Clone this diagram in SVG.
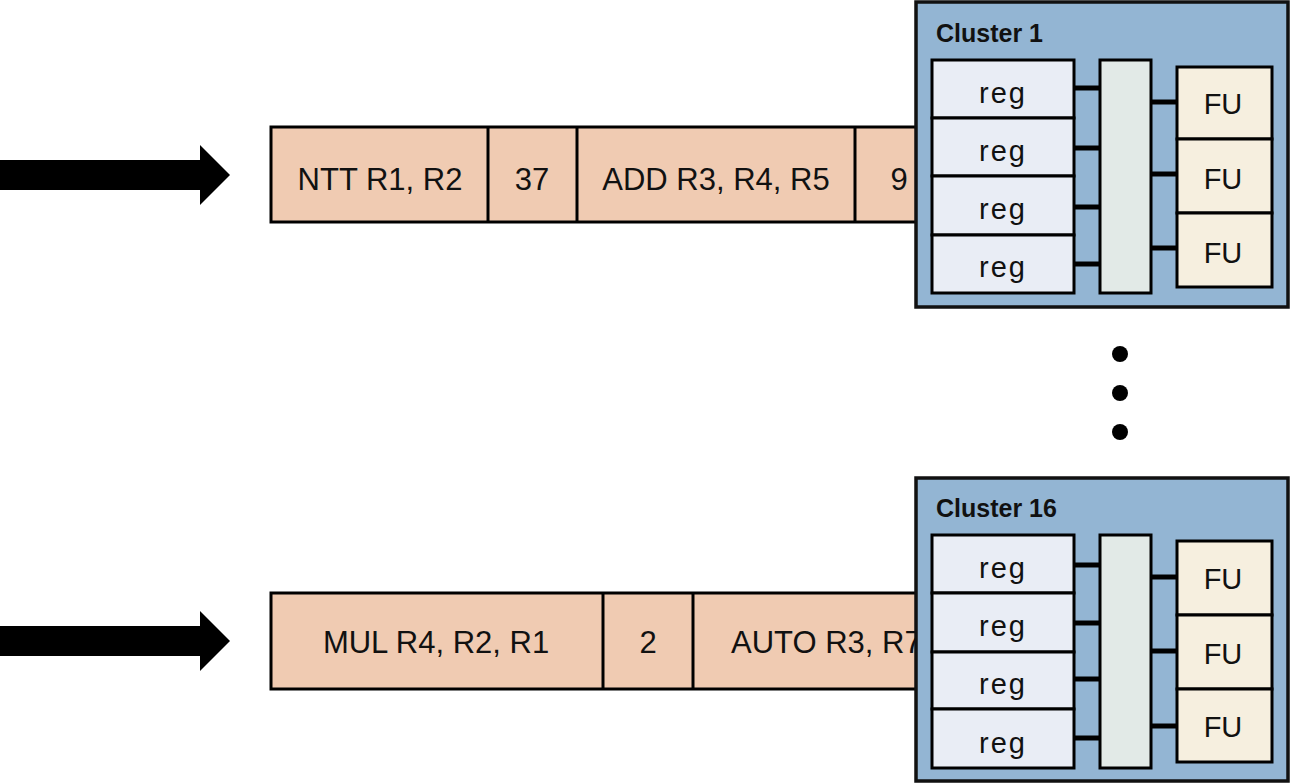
<svg xmlns="http://www.w3.org/2000/svg" width="1291" height="783" viewBox="0 0 1291 783">
  <style>
    .q { fill: #f0cbb2; stroke: #000; stroke-width: 3; }
    .div { stroke: #000; stroke-width: 3; }
    .qt { font-family: "Liberation Sans", Arial, sans-serif; font-size: 31px; fill: #111; text-anchor: middle; }
    .cl { fill: #93b5d3; stroke: #111; stroke-width: 3.5; }
    .ct { font-family: "Liberation Sans", Arial, sans-serif; font-size: 25px; font-weight: bold; fill: #111; }
    .reg { fill: #e9edf5; stroke: #000; stroke-width: 3; }
    .bus { fill: #e2eae7; stroke: #000; stroke-width: 3; }
    .fu { fill: #f6efdf; stroke: #000; stroke-width: 3; }
    .rt { font-family: "Liberation Sans", Arial, sans-serif; font-size: 29px; letter-spacing: 2px; fill: #111; text-anchor: middle; }
    .ft { font-family: "Liberation Sans", Arial, sans-serif; font-size: 29px; fill: #111; text-anchor: middle; }
    .wire { stroke: #000; stroke-width: 5; }
  </style>
  <defs>
    <path id="bigArrow" d="M0,-15 H200 V-30 L230,0 L200,30 V15 H0 Z" fill="#000"/>
  </defs>

  <!-- input arrows -->
  <g id="arrows">
    <use href="#bigArrow" x="0" y="175"/>
    <use href="#bigArrow" x="0" y="641"/>
  </g>

  <!-- instruction queue 1 -->
  <g id="queue1">
    <rect class="q" x="271" y="127" width="660" height="95"/>
    <line class="div" x1="488" y1="127" x2="488" y2="222"/>
    <line class="div" x1="577" y1="127" x2="577" y2="222"/>
    <line class="div" x1="855" y1="127" x2="855" y2="222"/>
    <text class="qt" x="380" y="190">NTT R1, R2</text>
    <text class="qt" x="532" y="190">37</text>
    <text class="qt" x="716" y="190">ADD R3, R4, R5</text>
    <text class="qt" x="899" y="190">9</text>
  </g>

  <!-- instruction queue 16 -->
  <g id="queue16">
    <rect class="q" x="271" y="593" width="660" height="96"/>
    <line class="div" x1="603" y1="593" x2="603" y2="689"/>
    <line class="div" x1="693" y1="593" x2="693" y2="689"/>
    <text class="qt" x="436" y="653">MUL R4, R2, R1</text>
    <text class="qt" x="648" y="653">2</text>
    <text class="qt" x="731" y="653" style="text-anchor:start">AUTO R3, R7</text>
  </g>

  <!-- cluster 1 -->
  <g id="cluster1">
    <rect class="cl" x="916" y="2" width="372" height="305"/>
    <text class="ct" x="936" y="42">Cluster 1</text>
    <rect class="reg" x="932" y="60" width="142" height="58"/>
    <rect class="reg" x="932" y="118" width="142" height="58"/>
    <rect class="reg" x="932" y="176" width="142" height="59"/>
    <rect class="reg" x="932" y="235" width="142" height="58"/>
    <text class="rt" x="1003" y="103">reg</text>
    <text class="rt" x="1003" y="161">reg</text>
    <text class="rt" x="1003" y="219">reg</text>
    <text class="rt" x="1003" y="277">reg</text>
    <rect class="bus" x="1100" y="60" width="51" height="233"/>
    <rect class="fu" x="1177" y="67" width="95" height="72"/>
    <rect class="fu" x="1177" y="139" width="95" height="74"/>
    <rect class="fu" x="1177" y="213" width="95" height="74"/>
    <text class="ft" x="1223" y="114">FU</text>
    <text class="ft" x="1223" y="189">FU</text>
    <text class="ft" x="1223" y="263">FU</text>
  </g>

  <!-- cluster 16 -->
  <g id="cluster16">
    <rect class="cl" x="916" y="478" width="372" height="303"/>
    <text class="ct" x="936" y="517">Cluster 16</text>
    <rect class="reg" x="932" y="535" width="142" height="58"/>
    <rect class="reg" x="932" y="593" width="142" height="59"/>
    <rect class="reg" x="932" y="652" width="142" height="57"/>
    <rect class="reg" x="932" y="709" width="142" height="59"/>
    <text class="rt" x="1003" y="578">reg</text>
    <text class="rt" x="1003" y="636">reg</text>
    <text class="rt" x="1003" y="694">reg</text>
    <text class="rt" x="1003" y="753">reg</text>
    <rect class="bus" x="1100" y="535" width="51" height="233"/>
    <rect class="fu" x="1177" y="541" width="95" height="74"/>
    <rect class="fu" x="1177" y="615" width="95" height="74"/>
    <rect class="fu" x="1177" y="689" width="95" height="73"/>
    <text class="ft" x="1223" y="589">FU</text>
    <text class="ft" x="1223" y="664">FU</text>
    <text class="ft" x="1223" y="737">FU</text>
  </g>

  <!-- wiring between register banks, crossbar and functional units -->
  <g id="connectors">
    <line class="wire" x1="1074" y1="88" x2="1100" y2="88"/>
    <line class="wire" x1="1074" y1="148" x2="1100" y2="148"/>
    <line class="wire" x1="1074" y1="207" x2="1100" y2="207"/>
    <line class="wire" x1="1074" y1="264" x2="1100" y2="264"/>
    <line class="wire" x1="1151" y1="102" x2="1177" y2="102"/>
    <line class="wire" x1="1151" y1="174" x2="1177" y2="174"/>
    <line class="wire" x1="1151" y1="248" x2="1177" y2="248"/>

    <line class="wire" x1="1074" y1="565" x2="1100" y2="565"/>
    <line class="wire" x1="1074" y1="623" x2="1100" y2="623"/>
    <line class="wire" x1="1074" y1="679" x2="1100" y2="679"/>
    <line class="wire" x1="1074" y1="738" x2="1100" y2="738"/>
    <line class="wire" x1="1151" y1="577" x2="1177" y2="577"/>
    <line class="wire" x1="1151" y1="651" x2="1177" y2="651"/>
    <line class="wire" x1="1151" y1="726" x2="1177" y2="726"/>
  </g>

  <!-- ellipsis between clusters -->
  <g id="dots" fill="#000">
    <circle cx="1120" cy="354" r="8"/>
    <circle cx="1120" cy="393" r="8"/>
    <circle cx="1120" cy="432" r="8"/>
  </g>
</svg>
